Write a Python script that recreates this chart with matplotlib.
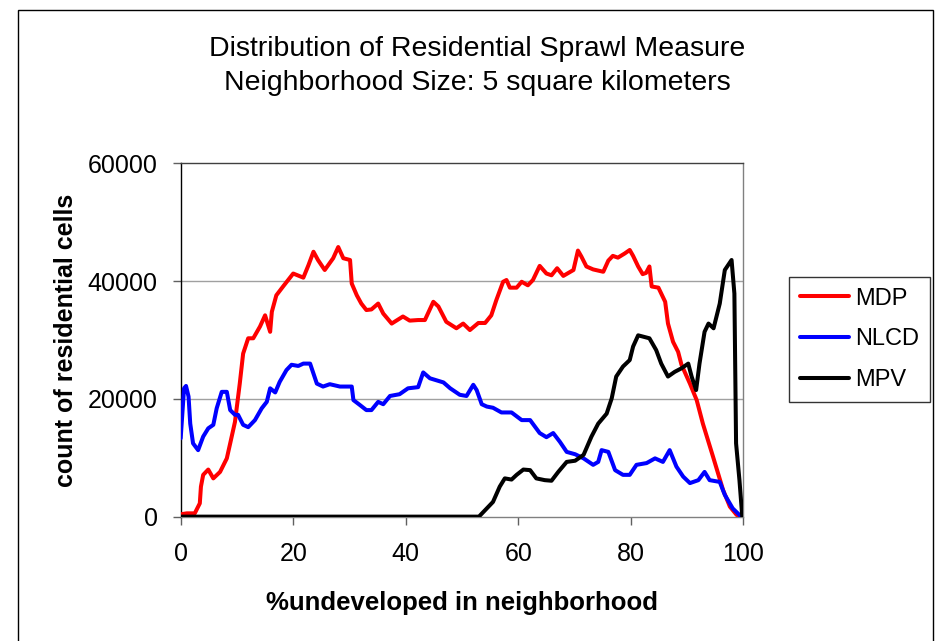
import matplotlib
matplotlib.use('Agg')
import matplotlib.pyplot as plt
from matplotlib.patches import Rectangle

# Дані кривих
mdp_x = [0, 1.1, 2.5, 3.4, 3.6, 4, 4.9, 5.8, 7, 8.2, 8.8, 9.65, 10.5, 11.1, 12, 12.9, 14.1, 15,
         15.9, 16.2, 17, 18.2, 19.1, 20, 21.8, 22.7, 23.6, 24.4, 25.6, 27.1, 28, 28.9, 30.1, 30.4,
         31.3, 32.1, 33, 33.9, 35.1, 36, 37.5, 39.5, 40.7, 42.2, 43.4, 44.9, 45.8, 47.2, 49, 50.2,
         51.4, 52.9, 54.1, 55.2, 56.1, 57.3, 57.9, 58.5, 59.7, 60.6, 61.7, 62.6, 63.8, 65, 65.9,
         66.9, 68, 69.8, 70.6, 71.2, 72.1, 73.3, 75.1, 76, 76.8, 77.7, 78.9, 79.8, 80.4, 81.3, 82.1,
         82.7, 83.3, 83.7, 84.9, 86.1, 86.6, 87.5, 88.4, 89, 90.5, 91.7, 92.8, 94.6, 96.4, 97.6,
         98.8, 99.6]
mdp_y = [400, 560, 560, 2260, 5100, 7100, 8000, 6500, 7600, 9900, 12450, 16100, 22600, 27700,
         30300, 30300, 32300, 34200, 31400, 34800, 37600, 39100, 40200, 41300, 40600, 42700, 45000,
         43600, 41900, 43900, 45800, 43900, 43600, 39600, 37600, 36200, 35100, 35200, 36200, 34500,
         32800, 34000, 33300, 33400, 33400, 36500, 35700, 33100, 32000, 32800, 31700, 32900, 32900,
         34200, 36800, 39900, 40200, 38900, 38900, 39900, 39300, 40200, 42600, 41300, 41000, 42200,
         40900, 41900, 45200, 44200, 42500, 42000, 41600, 43500, 44300, 44000, 44700, 45300, 44300,
         42500, 41200, 41400, 42500, 39100, 38900, 36500, 32800, 29700, 28000, 25800, 22600, 19800,
         15800, 10200, 4500, 1700, 300, 0]

nlcd_x = [0, 0.6, 0.95, 1.4, 1.7, 2.2, 3.1, 4, 4.9, 5.8, 6.4, 7.3, 8.2, 8.8, 9.65, 10.2, 11.1, 12,
          13.2, 14.4, 15.3, 15.9, 16.8, 17.6, 18.8, 19.7, 20.9, 21.8, 23, 24.2, 25.3, 26.5, 28.3,
          30.4, 30.7, 31.8, 33, 33.9, 35.1, 36, 37.2, 38.9, 40.4, 42.2, 43.1, 44.3, 46.7, 47.9,
          49.6, 50.8, 52, 52.6, 53.5, 54.4, 55.5, 57, 58.8, 60.6, 62.1, 63.8, 65, 66.2, 67.4, 68.6,
          70.1, 71.6, 73.3, 74.2, 74.8, 76, 77.2, 78.6, 79.8, 81, 82.8, 84.3, 85.7, 86.9, 88.1,
          89.3, 90.5, 92, 93.1, 94, 95.8, 96.7, 98.1, 99.6]
nlcd_y = [13300, 21800, 22200, 20400, 15800, 12450, 11300, 13600, 15000, 15600, 18400, 21200,
          21200, 18100, 17300, 17300, 15600, 15200, 16400, 18400, 19500, 21800, 21100, 22900,
          24900, 25800, 25600, 26000, 26000, 22600, 22100, 22500, 22100, 22100, 19800, 19000,
          18100, 18100, 19500, 19100, 20500, 20800, 21800, 22000, 24500, 23500, 22800, 21800,
          20700, 20500, 22400, 21500, 19100, 18700, 18500, 17700, 17700, 16400, 16400, 14200,
          13500, 14200, 12700, 11000, 10600, 9900, 8800, 9300, 11300, 11000, 7900, 7100, 7100,
          8800, 9100, 9900, 9300, 11300, 8500, 6800, 5700, 6200, 7600, 6200, 5900, 3700, 1400, 0]

mpv_x = [0, 53, 54.1, 55.5, 56.7, 57.6, 58.8, 59.7, 60.9, 62.1, 63.2, 64.7, 65.9, 67.1, 68.6,
         70.1, 71.6, 73, 74.2, 75.7, 76.6, 77.4, 78.6, 79.8, 80.4, 81.3, 83.3, 84.5, 85.4, 86.6,
         87.8, 89, 90.2, 90.8, 91.6, 92.2, 93.1, 93.8, 94.7, 95.8, 96.7, 97.9, 98.4, 98.7, 99.3,
         99.8]
mpv_y = [0, 0, 1100, 2500, 5100, 6500, 6300, 7100, 8000, 7900, 6500, 6200, 6100, 7600, 9300,
         9500, 10500, 13600, 15800, 17500, 20100, 23800, 25500, 26600, 28900, 30800, 30300,
         28300, 26000, 23800, 24600, 25200, 26000, 23800, 21500, 26000, 31400, 32800, 32000,
         36200, 41900, 43600, 37900, 12450, 6200, 0]

series_names = ['MDP', 'NLCD', 'MPV']
series_colors = ['#ff0000', '#0000ff', '#000000']

x_ticks = [0, 20, 40, 60, 80, 100]
y_ticks = [0, 20000, 40000, 60000]

title_text = 'Distribution of Residential Sprawl Measure\nNeighborhood Size: 5 square kilometers'
x_label = '%undeveloped in neighborhood'
y_label = 'count of residential cells'

plt.rcParams['font.family'] = ['Liberation Sans', 'DejaVu Sans']

fig = plt.figure(figsize=(9.41, 6.41), dpi=100)
ax = fig.add_axes([0.192, 0.194, 0.598, 0.551])

# Криві
line_kw = dict(lw=2.9, solid_joinstyle='round', solid_capstyle='round')
ax.plot(mdp_x, mdp_y, color=series_colors[0], label=series_names[0], zorder=3, **line_kw)
ax.plot(nlcd_x, nlcd_y, color=series_colors[1], label=series_names[1], zorder=3, **line_kw)
ax.plot(mpv_x, mpv_y, color=series_colors[2], label=series_names[2], zorder=4, **line_kw)

ax.set_xlim(0, 100)
ax.set_ylim(0, 60000)
ax.set_xticks(x_ticks)
ax.set_yticks(y_ticks)
ax.tick_params(axis='both', labelsize=18, direction='out', length=5.5, width=1, color='#606060')
ax.tick_params(axis='x', pad=13)
ax.tick_params(axis='y', pad=11)

# Сітка
for v in y_ticks[1:-1]:
    ax.axhline(v, color='#a0a0a0', lw=1, zorder=1)

ax.spines['left'].set_color('black')
ax.spines['bottom'].set_color('#808080')
ax.spines['top'].set_color('#404040')
ax.spines['right'].set_color('#808080')
for s in ax.spines.values():
    s.set_linewidth(1)

ax.set_xlabel(x_label, fontsize=18.5, fontweight='bold', labelpad=18)
ax.set_ylabel(y_label, fontsize=18, fontweight='bold', labelpad=7)

fig.text(0.507, 1 - 66 / 641, title_text, ha='center', va='center', fontsize=20.5,
         linespacing=1.45)

leg = ax.legend(loc='upper left', bbox_to_anchor=(0.8385, 0.568), bbox_transform=fig.transFigure,
                fontsize=17, frameon=True, fancybox=False, edgecolor='black',
                handlelength=2.1, handletextpad=0.25, labelspacing=0.8, borderpad=0.45,
                borderaxespad=0)
leg.get_frame().set_linewidth(1)

# Рамка навколо рисунка
fig.patches.append(Rectangle((18 / 941, -0.02), (933 - 18) / 941, 1 - 10 / 641 + 0.02,
                             transform=fig.transFigure, fill=False, edgecolor='black', lw=1))

fig.savefig('out.png', dpi=100)
